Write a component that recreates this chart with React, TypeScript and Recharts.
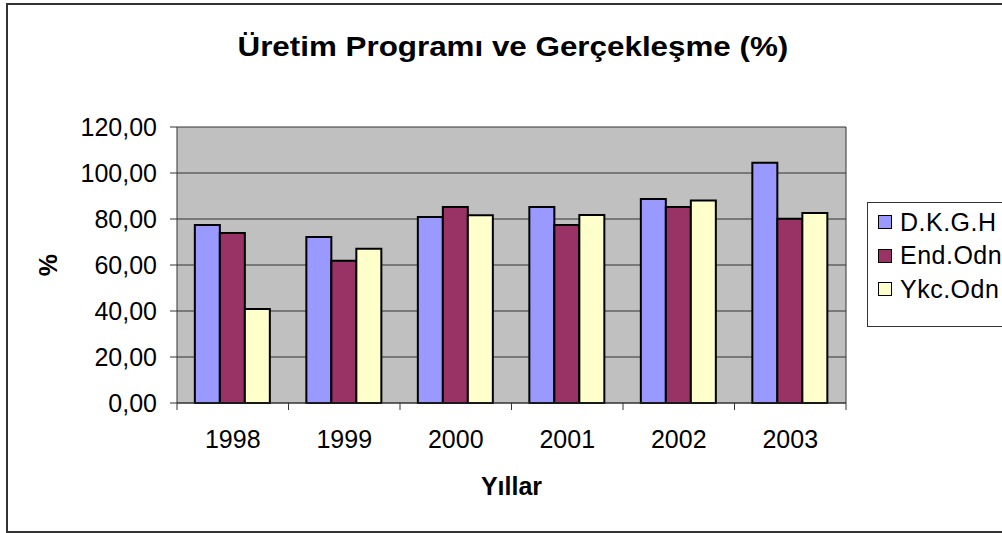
import React from "react";
import { Bar, BarChart, CartesianGrid, XAxis, YAxis, Label } from "recharts";

const years = ["1998", "1999", "2000", "2001", "2002", "2003"];
const dkgh = [77.4, 72.2, 80.9, 85.2, 88.7, 104.5];
const endOdn = [73.9, 61.9, 85.2, 77.4, 85.2, 80.1];
const ykcOdn = [40.9, 67.1, 81.6, 81.7, 88.0, 82.6];
const yTicks = [0, 20, 40, 60, 80, 100, 120];

const series = [
  { key: "dkgh", name: "D.K.G.H", color: "#9999FF" },
  { key: "endOdn", name: "End.Odn", color: "#993366" },
  { key: "ykcOdn", name: "Ykc.Odn", color: "#FFFFCC" },
];

const data = years.map((year, i) => ({
  year,
  dkgh: dkgh[i],
  endOdn: endOdn[i],
  ykcOdn: ykcOdn[i],
}));

const FONT = "'Liberation Sans', Arial, sans-serif";

// excel style: tick marks sit between categories, label in the middle
function YearTick(props: any) {
  const { x, y, payload, index, visibleTicksCount } = props;
  const half = payload.offset || 0;
  const last = index === visibleTicksCount - 1;
  return (
    <g>
      <line x1={x - half} x2={x - half} y1={y} y2={y + 7} stroke="#333" />
      {last && <line x1={x + half} x2={x + half} y1={y} y2={y + 7} stroke="#333" />}
      <text x={x} y={y + 27} dy="0.71em" textAnchor="middle" fontSize={25} fill="#000" fontFamily={FONT}>
        {payload.value}
      </text>
    </g>
  );
}

const fmt = (v: number) => v.toFixed(2).replace(".", ",");

export default function App() {
  return (
    <div style={{ position: "absolute", left: 0, top: 0, width: 1002, height: 533, overflow: "hidden", background: "#fff", fontFamily: FONT }}>
      <div style={{ position: "absolute", left: 6, top: 3, width: 1100, height: 526, border: "2px solid #333" }} />
      <div style={{ position: "absolute", left: 0, top: 31, width: 1025, textAlign: "center", whiteSpace: "pre" }}>
        <span style={{ display: "inline-block", fontSize: 28, fontWeight: "bold", transform: "scaleX(1.12)" }}>
          Üretim Programı ve Gerçekleşme (%)
        </span>
      </div>
      <div style={{ position: "absolute", left: 0, top: 0 }}>
        <BarChart
          width={1002}
          height={533}
          data={data}
          margin={{ top: 127, right: 156, bottom: 0, left: 0 }}
          barCategoryGap="16%"
          barGap={0}
        >
          <CartesianGrid
            fill="#C0C0C0"
            stroke="#333"
            strokeOpacity={1}
            verticalCoordinatesGenerator={({ offset }: any) => [offset.left + offset.width]}
          />
          <XAxis
            dataKey="year"
            interval={0}
            tick={<YearTick />}
            tickLine={false}
            tickSize={0}
            tickMargin={0}
            height={130}
            axisLine={{ stroke: "#333" }}
          >
            <Label
              content={({ viewBox }: any) => (
                <text x={viewBox.x + viewBox.width / 2} y={viewBox.y + 92} textAnchor="middle" fontSize={25} fontWeight="bold" fill="#000" fontFamily={FONT}>
                  Yıllar
                </text>
              )}
            />
          </XAxis>
          <YAxis
            width={177}
            domain={[0, 120]}
            ticks={yTicks}
            interval={0}
            tickFormatter={fmt}
            tickSize={7}
            tickMargin={13}
            tick={{ fontSize: 25, fill: "#000", fontFamily: FONT }}
            tickLine={{ stroke: "#333" }}
            axisLine={{ stroke: "#333" }}
          >
            <Label
              content={({ viewBox }: any) => {
                const cx = 48;
                const cy = viewBox.y + viewBox.height / 2;
                return (
                  <text x={cx} y={cy} transform={`rotate(-90 ${cx} ${cy})`} textAnchor="middle" dominantBaseline="central" fontSize={25} fontWeight="bold" fill="#000" fontFamily={FONT}>
                    %
                  </text>
                );
              }}
            />
          </YAxis>
          {series.map((s) => (
            <Bar key={s.key} dataKey={s.key} name={s.name} fill={s.color} stroke="#000" strokeWidth={2} isAnimationActive={false} />
          ))}
        </BarChart>
      </div>
      <div style={{ position: "absolute", left: 867, top: 202, width: 200, height: 123, border: "1px solid #333", background: "#fff" }}>
        {series.map((s, i) => (
          <div key={s.key} style={{ position: "absolute", left: 10, top: 5 + i * 33.5, height: 28, display: "flex", alignItems: "center", fontSize: 25, letterSpacing: 0.5, whiteSpace: "nowrap" }}>
            <span style={{ display: "inline-block", width: 12, height: 12, background: s.color, border: "1px solid #000", marginRight: 8 }} />
            {s.name}
          </div>
        ))}
      </div>
    </div>
  );
}
